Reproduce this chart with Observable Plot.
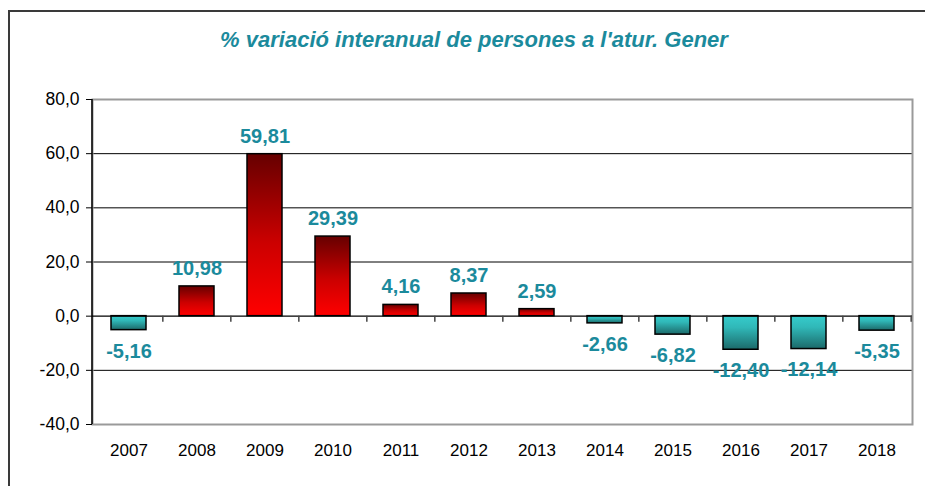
<!DOCTYPE html>
<html>
<head>
<meta charset="utf-8">
<script src="https://cdn.jsdelivr.net/npm/d3@7"></script>
<script src="https://cdn.jsdelivr.net/npm/@observablehq/plot@0.6"></script>
<style>
  html, body { margin: 0; padding: 0; background: #fff; }
  #wrap { position: relative; width: 925px; height: 486px; overflow: hidden; font-family: "Liberation Sans", Arial, sans-serif; }
  #border { position: absolute; left: 8px; top: 10px; width: 2000px; height: 2000px; border-left: 2px solid #3a3a3a; border-top: 2px solid #3a3a3a; }
  #title { position: absolute; left: 0; width: 948px; top: 27px; text-align: center; font-weight: bold; font-style: italic; font-size: 22px; color: #1b8a9c; }
  #chart { position: absolute; left: 0; top: 0; }
</style>
</head>
<body>
<div id="wrap">
  <div id="border"></div>
  <div id="chart"></div>
  <div id="title">% variació interanual de persones a l'atur. Gener</div>
</div>
<script>
const years = ["2007","2008","2009","2010","2011","2012","2013","2014","2015","2016","2017","2018"];
const values = [-5.16, 10.98, 59.81, 29.39, 4.16, 8.37, 2.59, -2.66, -6.82, -12.40, -12.14, -5.35];
const yTicks = [-40, -20, 0, 20, 40, 60, 80];

const data = years.map((year, i) => ({year, value: values[i]}));
const fmt = v => v.toFixed(2).replace(".", ",");
const W = 925, H = 486, mL = 92, mR = 13, mT = 99, mB = 62;
const step = (W - mL - mR) / years.length;

const chart = Plot.plot({
  width: W, height: H,
  marginLeft: mL, marginRight: mR, marginTop: mT, marginBottom: mB,
  style: {fontFamily: "Liberation Sans, Arial, sans-serif", color: "#000", background: "transparent"},
  x: {domain: years, paddingInner: 0.49, paddingOuter: 0.245, label: null},
  y: {domain: [-40, 80], label: null},
  marks: [
    Plot.ruleY(yTicks.filter(t => t !== 0 && t !== 80 && t !== -40), {stroke: "#000", strokeWidth: 1}),
    Plot.frame({stroke: "#9a9a9a", strokeWidth: 2}),
    Plot.axisY({ticks: yTicks, tickFormat: d => d.toFixed(1).replace(".", ","), tickSize: 6, tickPadding: 7, fontSize: 17.5, stroke: "#000"}),
    Plot.axisX({tickSize: 0, tickPadding: 19, fontSize: 17}),
    Plot.barY(data.filter(d => d.value > 0), {x: "year", y: "value", fill: "url(#gradPos)", stroke: "#000", strokeWidth: 1.5}),
    Plot.barY(data.filter(d => d.value < 0), {x: "year", y: "value", fill: "url(#gradNeg)", stroke: "#000", strokeWidth: 1.5}),
    Plot.ruleY([0], {stroke: "#000", strokeWidth: 1.3}),
    Plot.ruleX(years.slice(1), {x: d => d, y1: () => 0, y2: () => -2.2, dx: -step / 2, stroke: "#444", strokeWidth: 1.5}),
    Plot.ruleX(years.slice(-1), {x: d => d, y1: () => 0, y2: () => -2.2, dx: step / 2, stroke: "#444", strokeWidth: 1.5}),
    Plot.text(data.filter(d => d.value > 0), {x: "year", y: "value", text: d => fmt(d.value), dy: -18, fill: "#1b8a9c", fontWeight: "bold", fontSize: 20}),
    Plot.text(data.filter(d => d.value < 0), {x: "year", y: "value", text: d => fmt(d.value), dy: 21, fill: "#1b8a9c", fontWeight: "bold", fontSize: 20})
  ]
});

const svg = d3.select(chart);
const defs = svg.insert("defs", ":first-child");
const gp = defs.append("linearGradient").attr("id", "gradPos").attr("x1", 0).attr("y1", 0).attr("x2", 0).attr("y2", 1);
gp.append("stop").attr("offset", "0%").attr("stop-color", "#660000");
gp.append("stop").attr("offset", "55%").attr("stop-color", "#cc0000");
gp.append("stop").attr("offset", "100%").attr("stop-color", "#ff0000");
const gn = defs.append("linearGradient").attr("id", "gradNeg").attr("x1", 0).attr("y1", 0).attr("x2", 0).attr("y2", 1);
gn.append("stop").attr("offset", "0%").attr("stop-color", "#36cccc");
gn.append("stop").attr("offset", "35%").attr("stop-color", "#30b8b8");
gn.append("stop").attr("offset", "100%").attr("stop-color", "#1c6a6a");

// left axis line
const yS = chart.scale("y");
svg.append("line").attr("x1", mL).attr("x2", mL).attr("y1", yS.apply(80)).attr("y2", yS.apply(-40)).attr("stroke", "#000").attr("stroke-width", 1.5);

document.getElementById("chart").appendChild(chart);
</script>
</body>
</html>
